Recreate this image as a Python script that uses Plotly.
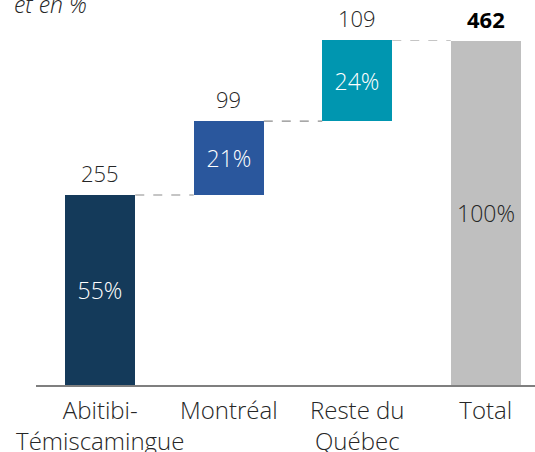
import plotly.graph_objects as go

# Regional breakdown (waterfall) with share of total
categories = ["Abitibi-<br>Témiscamingue", "Montréal", "Reste du<br>Québec", "Total"]
parts = [255, 99, 109]
total = 462
colors = ["#143a5a", "#2a579d", "#0096b0", "#bfbfbf"]

values = parts + [total]
bases = []
run = 0
for v in parts:
    bases.append(run)
    run += v
bases.append(0)
tops = [b + v for b, v in zip(bases, values)]
shares = [f"{round(v / total * 100)}%" for v in values]

xs = list(range(len(categories)))
bar_w = 0.545
font_family = "Open Sans"
light = 300

fig = go.Figure()
fig.add_trace(go.Bar(
    x=xs, y=values, base=bases,
    width=bar_w,
    marker=dict(color=colors, line=dict(width=0)),
    text=shares,
    textposition="inside",
    insidetextanchor="middle",
    textangle=0,
    textfont=dict(family=font_family, size=23, weight=light,
                  color=["white", "white", "white", "#262626"]),
    hoverinfo="skip",
    cliponaxis=False,
))

# value labels above each bar
for i, (x, t, v) in enumerate(zip(xs, tops, values)):
    is_total = i == len(values) - 1
    fig.add_annotation(
        x=x, y=t, xref="x", yref="y",
        text=f"<b>{v}</b>" if is_total else str(v),
        showarrow=False, yanchor="bottom", yshift=5,
        font=dict(family=font_family, size=22,
                  weight=700 if is_total else light,
                  color="#000000" if is_total else "#262626"),
    )

# dashed connectors between consecutive bars
for i in range(len(values) - 1):
    level = tops[i]
    fig.add_shape(
        type="line", xref="x", yref="y",
        x0=xs[i] + bar_w / 2, x1=xs[i + 1] - bar_w / 2,
        y0=level, y1=level,
        line=dict(color="#8c8c8c", width=1.2, dash="dash"),
    )

# partially visible subtitle at the top
fig.add_annotation(
    xref="paper", yref="paper", x=0, y=1, xanchor="left", yanchor="middle",
    xshift=-24, yshift=36,
    text="<i>et en %</i>", showarrow=False,
    font=dict(family=font_family, size=23, weight=light, color="#262626"),
)

fig.update_layout(
    width=535, height=452,
    margin=dict(l=36, r=0, t=40, b=67),
    paper_bgcolor="white", plot_bgcolor="white",
    showlegend=False,
    bargap=0,
    xaxis=dict(
        tickmode="array", tickvals=xs, ticktext=categories,
        range=[-0.5, -0.5 + 499 / 128.5],
        showgrid=False, zeroline=False,
        showline=True, linecolor="#7f7f7f", linewidth=2,
        ticks="", ticklabelstandoff=3, tickangle=0, automargin=False,
        tickfont=dict(family=font_family, size=24, weight=light, color="#262626"),
    ),
    yaxis=dict(
        range=[0, max(tops)], visible=False, showgrid=False, zeroline=False,
    ),
)

fig.write_html("out.html")
